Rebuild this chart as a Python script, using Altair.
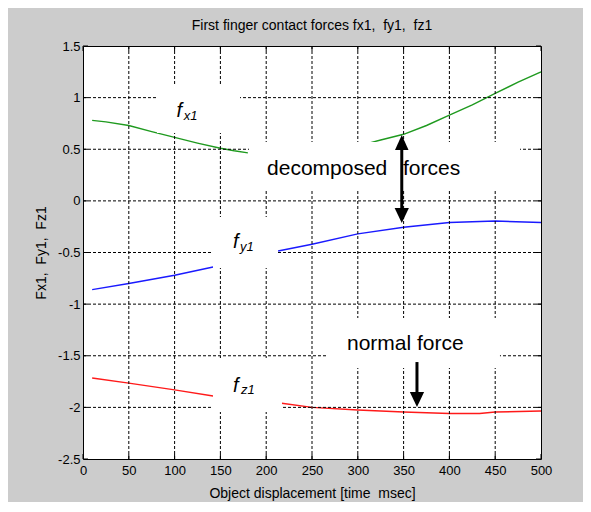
import altair as alt
import pandas as pd

# ---- series (visible segments of each force curve) ----
fx1_a_x = [10, 25, 50, 75, 100, 125, 150, 165, 180]
fx1_a_y = [0.78, 0.765, 0.73, 0.67, 0.615, 0.56, 0.51, 0.485, 0.465]
fx1_b_x = [312, 325, 350, 375, 400, 425, 450, 475, 500]
fx1_b_y = [0.56, 0.59, 0.645, 0.73, 0.83, 0.93, 1.04, 1.15, 1.25]
fy1_a_x = [10, 50, 100, 142]
fy1_a_y = [-0.86, -0.80, -0.72, -0.64]
fy1_b_x = [213, 250, 300, 350, 400, 450, 500]
fy1_b_y = [-0.485, -0.42, -0.32, -0.255, -0.21, -0.195, -0.21]
fz1_a_x = [10, 50, 100, 142]
fz1_a_y = [-1.715, -1.765, -1.83, -1.89]
fz1_b_x = [217, 250, 300, 350, 400, 433, 450, 500]
fz1_b_y = [-1.96, -2.0, -2.025, -2.045, -2.06, -2.06, -2.045, -2.035]

series_names = ["fx1", "fy1", "fz1"]
series_colors = ["#1f9a1f", "#1a1aff", "#ff1a1a"]

# ---- axes ----
x_ticks = list(range(0, 501, 50))
y_ticks = [-2.5, -2, -1.5, -1, -0.5, 0, 0.5, 1, 1.5]
x_grid = [50, 100, 150, 200, 250, 300, 350, 400, 450]
y_grid = [-2, -1.5, -1, -0.5, 0, 0.5, 1]

NB = "\u00a0"
title_text = "First finger contact forces fx1," + NB + " fy1," + NB + " fz1"
x_title = "Object displacement [time" + NB + " msec]"
y_title = "Fx1," + NB + " Fy1," + NB + " Fz1"

# ---- annotation boxes (data units) ----
box_x0 = [80.8, 181.2, 141.9, 141.9, 266.4]
box_x1 = [171.4, 477.1, 212.9, 217.2, 455.2]
box_y0 = [0.657, 0.105, -0.650, -2.045, -1.619]
box_y1 = [1.122, 0.570, -0.156, -1.522, -1.134]

# ---- annotation texts ----
big_text = ["decomposed", "forces", "normal force"]
big_x = [200.9, 349.3, 288.2]
big_y = [0.25, 0.25, -1.444]
f_text = ["f", "f", "f"]
f_x = [102.0, 163.8, 163.8]
f_y = [0.812, -0.456, -1.851]
sub_text = ["x1", "y1", "z1"]
sub_x = [110.0, 171.4, 172.5]
sub_y = [0.783, -0.485, -1.870]

# ---- arrows ----
shaft_x = [348, 364.6]
shaft_y0 = [0.50, -1.561]
shaft_y1 = [-0.08, -1.86]
head_up_x = [348]
head_up_y = [0.565]
head_down_x = [348, 364.6]
head_down_y = [-0.142, -1.924]

FONT = "Liberation Sans"

rows = []
for name, seg, xs, ys in [
    ("fx1", "a", fx1_a_x, fx1_a_y), ("fx1", "b", fx1_b_x, fx1_b_y),
    ("fy1", "a", fy1_a_x, fy1_a_y), ("fy1", "b", fy1_b_x, fy1_b_y),
    ("fz1", "a", fz1_a_x, fz1_a_y), ("fz1", "b", fz1_b_x, fz1_b_y),
]:
    for xv, yv in zip(xs, ys):
        rows.append({"series": name, "seg": name + seg, "x": xv, "y": yv})
lines_df = pd.DataFrame(rows)

xscale = alt.Scale(domain=[0, 500], nice=False, zero=False)
yscale = alt.Scale(domain=[-2.5, 1.5], nice=False, zero=False)
xaxis = alt.Axis(values=x_ticks, grid=False, ticks=False, tickSize=0, domain=False,
                 labelFont=FONT, labelFontSize=13, labelColor="black", labelPadding=5,
                 labelFlush=False, labelOverlap=False,
                 labelExpr="toString(datum.value)",
                 titleFont=FONT, titleFontSize=14, titleFontWeight="normal", titleColor="black",
                 titleY=34, titleBaseline="middle")
yaxis = alt.Axis(values=y_ticks, grid=False, ticks=False, tickSize=0, domain=False,
                 labelFont=FONT, labelFontSize=13, labelColor="black", labelPadding=3,
                 labelFlush=False, labelOverlap=False,
                 labelExpr="toString(datum.value)",
                 titleFont=FONT, titleFontSize=14, titleFontWeight="normal", titleColor="black",
                 titleX=-42, titleY=206.5, titleAngle=270, titleBaseline="middle", titleAlign="center")


def X(field):
    return alt.X(field, type="quantitative", scale=xscale, axis=xaxis, title=x_title)


def Y(field):
    return alt.Y(field, type="quantitative", scale=yscale, axis=yaxis, title=y_title)


lines = alt.Chart(lines_df).mark_line(strokeWidth=1.4).encode(
    x=X("x"), y=Y("y"),
    color=alt.Color("series:N", scale=alt.Scale(domain=series_names, range=series_colors), legend=None),
    detail="seg:N",
)

vgrid = alt.Chart(pd.DataFrame({"x": x_grid})).mark_rule(
    color="black", strokeWidth=1, strokeDash=[3, 2]).encode(x=X("x"))
hgrid = alt.Chart(pd.DataFrame({"y": y_grid})).mark_rule(
    color="black", strokeWidth=1, strokeDash=[3, 2]).encode(y=Y("y"))

ytick_df = pd.DataFrame({"y": y_ticks})
xtick_df = pd.DataFrame({"x": x_ticks})
tick_l = alt.Chart(ytick_df).mark_rule(color="black").encode(y=Y("y"), x=alt.value(0), x2=alt.value(5))
tick_r = alt.Chart(ytick_df).mark_rule(color="black").encode(y=Y("y"), x=alt.value(453), x2=alt.value(458))
tick_b = alt.Chart(xtick_df).mark_rule(color="black").encode(x=X("x"), y=alt.value(413), y2=alt.value(408))
tick_t = alt.Chart(xtick_df).mark_rule(color="black").encode(x=X("x"), y=alt.value(0), y2=alt.value(5))

boxes = alt.Chart(pd.DataFrame({"x0": box_x0, "x1": box_x1, "y0": box_y0, "y1": box_y1})).mark_rect(
    color="white", opacity=1, cornerRadius=0).encode(x=X("x0"), x2="x1", y=Y("y0"), y2="y1")

big = alt.Chart(pd.DataFrame({"t": big_text, "x": big_x, "y": big_y})).mark_text(
    font=FONT, fontSize=21, align="left", baseline="alphabetic", color="black").encode(
    x=X("x"), y=Y("y"), text="t:N")
fs = alt.Chart(pd.DataFrame({"t": f_text, "x": f_x, "y": f_y})).mark_text(
    font=FONT, fontSize=20, fontStyle="italic", align="left", baseline="alphabetic", color="black").encode(
    x=X("x"), y=Y("y"), text="t:N")
subs = alt.Chart(pd.DataFrame({"t": sub_text, "x": sub_x, "y": sub_y})).mark_text(
    font=FONT, fontSize=13, fontStyle="italic", align="left", baseline="alphabetic", color="black").encode(
    x=X("x"), y=Y("y"), text="t:N")

shafts = alt.Chart(pd.DataFrame({"x": shaft_x, "y0": shaft_y0, "y1": shaft_y1})).mark_rule(
    color="black", strokeWidth=3).encode(x=X("x"), y=Y("y0"), y2="y1")
heads_up = alt.Chart(pd.DataFrame({"x": head_up_x, "y": head_up_y})).mark_point(
    shape="M0,-1L-0.9,1L0.9,1Z", size=225, filled=True, color="black", opacity=1).encode(
    x=X("x"), y=Y("y"))
heads_down = alt.Chart(pd.DataFrame({"x": head_down_x, "y": head_down_y})).mark_point(
    shape="M0,1L-0.95,-1L0.95,-1Z", size=225, filled=True, color="black", opacity=1).encode(
    x=X("x"), y=Y("y"))

chart = alt.layer(
    lines, vgrid, hgrid, tick_l, tick_r, tick_b, tick_t,
    boxes, big, fs, subs, shafts, heads_up, heads_down,
).properties(
    width=458, height=413,
    autosize=alt.AutoSizeParams(type="none"),
    padding={"left": 75, "top": 38, "right": 42, "bottom": 43},
    background="#cccccc",
    title=alt.TitleParams(title_text, font=FONT, fontSize=14, fontWeight="normal", color="black",
                          anchor="middle", offset=7),
).configure_view(
    fill="white", stroke="black", strokeWidth=1,
)

chart.save("out.html", embed_options={"renderer": "svg", "actions": False})
